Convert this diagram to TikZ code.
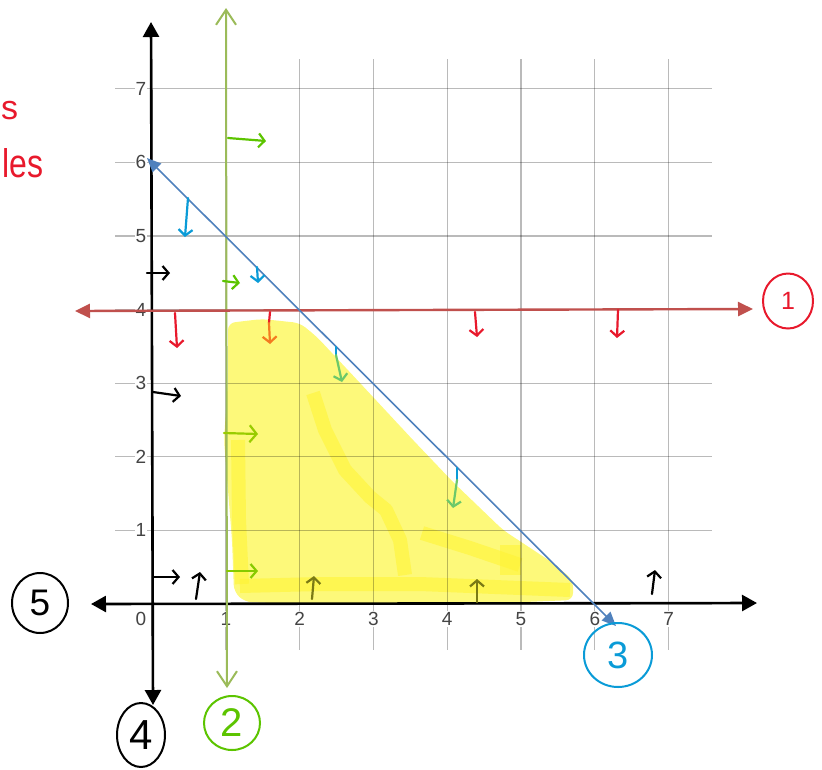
\documentclass[tikz,border=0pt]{standalone}
\usepackage{fontspec}
\setmainfont{Liberation Sans}
\usetikzlibrary{arrows.meta,shapes.geometric}
\definecolor{labc}{HTML}{444444}
\definecolor{lgreen}{HTML}{9BBB59}
\definecolor{lred}{HTML}{C0504D}
\definecolor{lblue}{HTML}{4F81BD}
\definecolor{penred}{HTML}{E8192C}
\definecolor{pengreen}{HTML}{5CC400}
\definecolor{pencyan}{HTML}{0A9BD7}
\definecolor{penorange}{HTML}{F47B20}
\definecolor{penlgreen}{HTML}{6CC86A}
\definecolor{penyg}{HTML}{99CC00}
\definecolor{penolive}{HTML}{7A7A14}
\definecolor{hl}{HTML}{FDF97A}
\definecolor{hldark}{HTML}{FFF436}
\begin{document}
\begin{tikzpicture}[x=1pt,y=-1pt,
  gridline/.style={black, opacity=0.27, line width=1.3pt},
  ticklab/.style={text=labc, font=\fontsize{19}{19}\selectfont, fill=white, inner sep=1pt},
  axisline/.style={black, line width=2.6pt, {Triangle[length=15pt,width=16pt]}-{Triangle[length=15pt,width=16pt]}},
  redline/.style={lred, line width=2.4pt, {Triangle[length=15pt,width=14pt]}-{Triangle[length=15pt,width=14pt]}},
  blueline/.style={lblue, line width=1.6pt, {Triangle[length=14pt,width=12pt]}-{Triangle[length=14pt,width=12pt]}},
  greenline/.style={lgreen, line width=2pt, {Straight Barb[length=15pt,width=20pt]}-{Straight Barb[length=15pt,width=20pt]}},
  pen/.style={line width=2.2pt, line cap=round, line join=round, -{Straight Barb[length=6pt,width=14pt]}},
  stub/.style={line width=2.2pt, line cap=round},
  hlstroke/.style={hldark, line width=14pt, opacity=0.6, line join=round},
  circlab/.style={ellipse, line width=2pt, inner sep=0pt},
]
\useasboundingbox (0,0) rectangle (822,769);

% highlighted feasible region
\fill[hl, rounded corners=7pt] (228,323) -- (262,319) -- (300,323) -- (317,337) -- (360,383)
  -- (413,440) -- (453,482) -- (503,530) -- (553,563) -- (573,580) -- (573,600)
  -- (500,603) -- (400,605) -- (300,604) -- (245,602) -- (234,592) -- (232,540)
  -- (224,440) -- (228,380) -- cycle;
\draw[hlstroke] (313,393) -- (325,430) -- (345,470) -- (370,497) -- (386,510) -- (400,540) -- (405,575);
\draw[hlstroke] (422,533) -- (470,548) -- (520,565);
\draw[hlstroke] (240,586) -- (320,584) -- (420,584) -- (570,590);
\draw[hlstroke] (238,440) -- (239,520) -- (242,584);
\fill[hldark, opacity=0.6] (500,545) rectangle (521,575);

% grid
\foreach \i in {0,...,7} {
  \draw[gridline] ({152+73.8*\i},59) -- ({152+73.8*\i},650);
  \draw[gridline] (115,{604-73.6*\i}) -- (712,{604-73.6*\i});
}
% tick labels
\node[ticklab] (x0) at (141,619) {0};
\foreach \i in {1,...,7} {
  \node[ticklab] (x\i) at ({152+73.8*\i},619) {\i};
  \node[ticklab] (y\i) at (141,{604-73.6*\i}) {\i};
}

% axes
\coordinate (xL) at (91,604);
\coordinate (xR) at (757,603);
\coordinate (yT) at (151,22);
\coordinate (yB) at (153,705);
\draw[axisline] (xL) -- (xR);
\draw[axisline] (yT) -- (yB);

% constraint lines
\coordinate (gT) at (226,8);
\coordinate (gB) at (227,688);
\draw[greenline] (gT) -- (gB);
\coordinate (rL) at (75,311);
\coordinate (rR) at (753,309);
\draw[redline] (rL) -- (rR);
\coordinate (bT) at (147,158);
\coordinate (bB) at (616,626);
\draw[blueline] (bT) -- (bB);

% circled labels
\node[circlab, draw=penred, minimum width=50pt, minimum height=55pt, text=penred,
  font=\fontsize{25}{25}\selectfont] (c1) at (788,301) {1};
\node[circlab, draw=pengreen, minimum width=56pt, minimum height=54pt, text=pengreen,
  font=\fontsize{40}{40}\selectfont] (c2) at (232,723) {2};
\node[circlab, draw=pencyan, minimum width=68pt, minimum height=64pt, text=pencyan,
  font=\fontsize{38}{38}\selectfont] (c3) at (618,655) {3};
\node[circlab, draw=black, minimum width=48pt, minimum height=64pt, text=black,
  font=\fontsize{42}{42}\selectfont] (c4) at (141,735) {4};
\node[circlab, draw=black, minimum width=56pt, minimum height=60pt, text=black,
  font=\fontsize{37}{37}\selectfont] (c5) at (40,603) {5};

% red words at the left edge
\node[text=penred, font=\fontsize{34}{34}\selectfont, anchor=base west, inner sep=0pt] (w1) at (1,119) {s};
\node[text=penred, font=\fontsize{40}{40}\selectfont, anchor=base west, inner sep=0pt, xscale=0.8] (w2) at (2,177) {les};

% hand-drawn direction arrows
\coordinate (a1s) at (228,138); \coordinate (a1e) at (266,141);
\draw[pen, pengreen] (a1s) -- (a1e);
\coordinate (a2s) at (188,198); \coordinate (a2e) at (185,237);
\draw[pen, pencyan] (a2s) -- (a2e);
\coordinate (a3s) at (147,273); \coordinate (a3e) at (170,273);
\draw[pen, black] (a3s) -- (a3e);
\coordinate (a4s) at (223,281); \coordinate (a4e) at (240,283);
\draw[pen, pengreen] (a4s) -- (a4e);
\coordinate (a5s) at (257,267); \coordinate (a5e) at (258,283);
\draw[pen, pencyan] (a5s) -- (a5e);
\coordinate (a6s) at (175,313); \coordinate (a6e) at (177,348);
\draw[pen, penred] (a6s) -- (a6e);
\coordinate (a7s) at (270,312); \coordinate (a7m) at (269,323); \coordinate (a7e) at (270,344);
\draw[stub, penred] (a7s) -- (a7m);
\draw[pen, penorange] (a7m) -- (a7e);
\coordinate (a8s) at (475,312); \coordinate (a8e) at (477,337);
\draw[pen, penred] (a8s) -- (a8e);
\coordinate (a9s) at (618,310); \coordinate (a9e) at (617,338);
\draw[pen, penred] (a9s) -- (a9e);
\coordinate (a10s) at (336,347); \coordinate (a10m) at (336,355); \coordinate (a10e) at (342,382);
\draw[stub, pencyan] (a10s) -- (a10m);
\draw[pen, penlgreen] (a10m) -- (a10e);
\coordinate (a11s) at (153,392); \coordinate (a11e) at (181,396);
\draw[pen, black] (a11s) -- (a11e);
\coordinate (a12s) at (224,433); \coordinate (a12e) at (258,434);
\draw[pen, penyg, -{Straight Barb[length=7pt,width=17pt]}] (a12s) -- (a12e);
\coordinate (a13s) at (457,468); \coordinate (a13m) at (457,480); \coordinate (a13e) at (453,508);
\draw[stub, pencyan] (a13s) -- (a13m);
\draw[pen, penlgreen] (a13m) -- (a13e);
\coordinate (a14s) at (153,577); \coordinate (a14e) at (180,577);
\draw[pen, black] (a14s) -- (a14e);
\coordinate (a15s) at (196,599); \coordinate (a15e) at (200,572);
\draw[pen, black] (a15s) -- (a15e);
\coordinate (a16s) at (227,571); \coordinate (a16e) at (258,571);
\draw[pen, penyg!70!pengreen] (a16s) -- (a16e);
\coordinate (a17s) at (312,599); \coordinate (a17e) at (314,576);
\draw[pen, penolive] (a17s) -- (a17e);
\coordinate (a18s) at (477,602); \coordinate (a18e) at (477,579);
\draw[pen, penolive] (a18s) -- (a18e);
\coordinate (a19s) at (652,594); \coordinate (a19e) at (655,570);
\draw[pen, black] (a19s) -- (a19e);
\end{tikzpicture}
\end{document}
